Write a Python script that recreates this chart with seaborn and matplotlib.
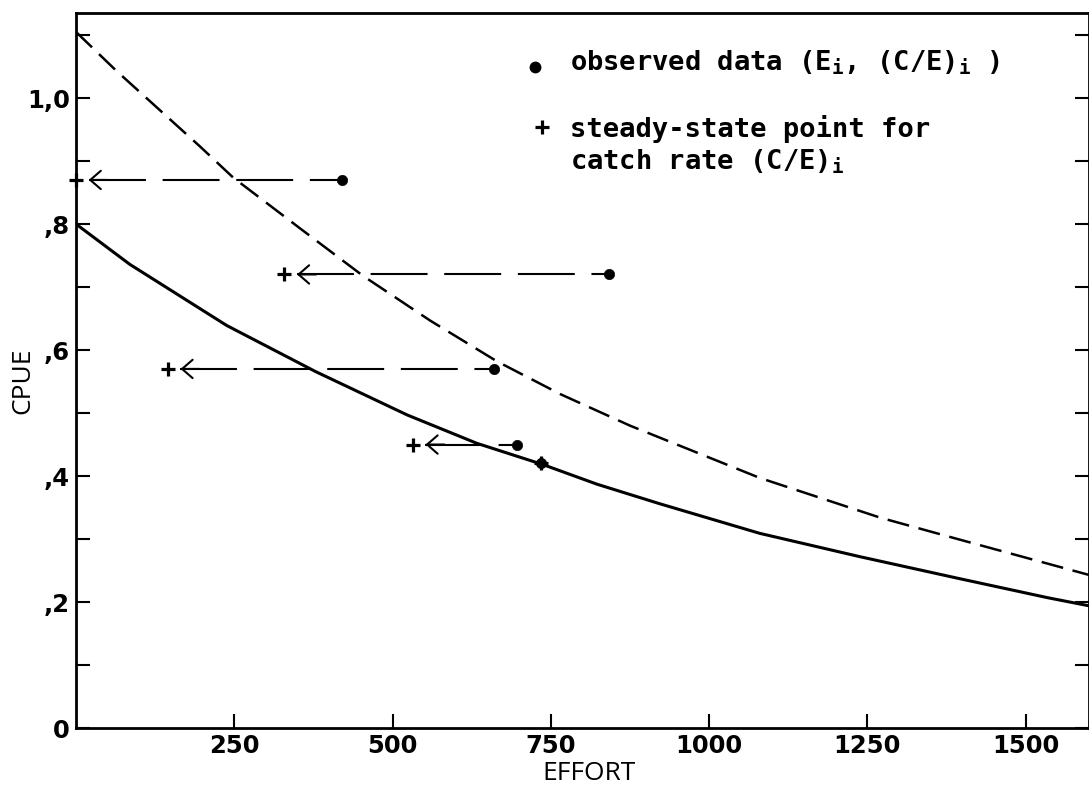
import matplotlib
matplotlib.use("Agg")
import matplotlib.pyplot as plt
import seaborn as sns

# Equilibrium (steady-state) catch-rate curve
effort_equil = [0, 85, 238, 378, 523, 633, 738, 823, 922, 1080, 1238, 1396, 1534, 1600]
cpue_equil = [0.800, 0.736, 0.639, 0.566, 0.497, 0.452, 0.418, 0.387, 0.356,
              0.309, 0.272, 0.237, 0.207, 0.194]

# Upper (dashed) curve
effort_upper = [0, 64, 196, 248, 354, 453, 559, 665, 765, 875, 1080, 1270, 1396, 1600]
cpue_upper = [1.105, 1.043, 0.923, 0.874, 0.793, 0.718, 0.647, 0.582, 0.530,
              0.480, 0.397, 0.334, 0.299, 0.243]

# Observed data (E_i, (C/E)_i) and the steady-state effort for each catch rate
obs_effort = [420, 842, 660, 697, 735]
obs_cpue = [0.87, 0.72, 0.57, 0.45, 0.42]
ss_effort = [0, 329, 145, 532, 735]
ss_cpue = [0.87, 0.72, 0.57, 0.45, 0.42]

x_ticks = [250, 500, 750, 1000, 1250, 1500]
x_tick_labels = ["250", "500", "750", "1000", "1250", "1500"]
y_ticks = [0.0, 0.2, 0.4, 0.6, 0.8, 1.0]
y_tick_labels = ["0", ",2", ",4", ",6", ",8", "1,0"]
y_minor_ticks = [0.1, 0.3, 0.5, 0.7, 0.9, 1.1]

sns.set_style("ticks")
plt.rcParams["font.family"] = ["DejaVu Sans"]
plt.rcParams["lines.scale_dashes"] = False
plt.rcParams["mathtext.fontset"] = "dejavusans"
for key in ["text.color", "axes.labelcolor", "xtick.color", "ytick.color",
            "axes.edgecolor"]:
    plt.rcParams[key] = "black"

fig = plt.figure(figsize=(10.89, 7.89), dpi=100)
ax = fig.add_axes([0.0698, 0.0773, 0.9302, 0.9062])

# curves
sns.lineplot(x=effort_equil, y=cpue_equil, ax=ax, color="black", lw=2.2)
sns.lineplot(x=effort_upper, y=cpue_upper, ax=ax, color="black", lw=1.8)
ax.lines[-1].set_dashes([16, 7])
for ln in ax.lines:
    ln.set_solid_joinstyle("round")

# dashed arrows from each observation back to its steady-state point
for xo, yo, xs, ys in zip(obs_effort, obs_cpue, ss_effort, ss_cpue):
    if xo == xs:
        continue
    tip = xs + 20
    ax.plot([tip, xo], [yo, yo], color="black", lw=1.5, dashes=[41, 12],
            solid_capstyle="butt")
    ax.annotate("", xy=(tip, ys), xytext=(tip + 30, ys),
                arrowprops=dict(arrowstyle="->,head_length=0.38,head_width=0.33",
                                lw=1.5, color="black", shrinkA=0, shrinkB=0,
                                mutation_scale=20))

sns.scatterplot(x=obs_effort, y=obs_cpue, ax=ax, color="black", s=55,
                edgecolor="black", linewidth=0.5, zorder=5)
sns.scatterplot(x=ss_effort, y=ss_cpue, ax=ax, color="black", marker="+",
                s=90, linewidth=2.3, zorder=6)
for coll in ax.collections:
    coll.set_clip_on(False)

# key
ax.plot([725], [1.049], marker="o", ms=7.5, color="black", clip_on=False)
ax.plot([736], [0.954], marker="+", ms=10, mew=2.3, color="black", clip_on=False)
key_font = dict(family="DejaVu Sans Mono", weight="bold", size=19.5, va="baseline",
                ha="left", color="black")
ax.text(780, 1.0445, r"observed data (E$_\mathregular{i}$, (C/E)$_\mathregular{i}$ )",
        **key_font)
ax.text(780, 0.938, "steady-state point for", **key_font)
ax.text(780, 0.887, r"catch rate (C/E)$_\mathregular{i}$", **key_font)

# axes
ax.set_xlim(0, 1600)
ax.set_ylim(0, 1.135)
ax.set_xticks(x_ticks)
ax.set_xticklabels(x_tick_labels)
ax.set_yticks(y_ticks)
ax.set_yticklabels(y_tick_labels)
ax.set_yticks(y_minor_ticks, minor=True)

ax.tick_params(axis="x", which="major", direction="in", length=10, width=1.5,
               labelsize=17.5, pad=4, top=False, bottom=True, colors="black")
ax.tick_params(axis="y", which="both", direction="in", length=10, width=1.5,
               labelsize=17.5, pad=4.3, left=True, right=True, colors="black")
for lbl in ax.get_xticklabels() + ax.get_yticklabels():
    lbl.set_fontweight("bold")
    lbl.set_family("DejaVu Sans")

for side in ["left", "right", "top", "bottom"]:
    ax.spines[side].set_visible(True)
    ax.spines[side].set_linewidth(2)
    ax.spines[side].set_color("black")

ax.set_xlabel("EFFORT", fontfamily="Open Sans", fontsize=19, va="top", color="black")
ax.set_ylabel("CPUE", fontfamily="Open Sans", fontsize=19, va="center", color="black")
ax.xaxis.set_label_coords(0.5064, -0.046)
ax.yaxis.set_label_coords(-0.0523, 0.4853)

fig.savefig("out.png", dpi=100, facecolor="white")
